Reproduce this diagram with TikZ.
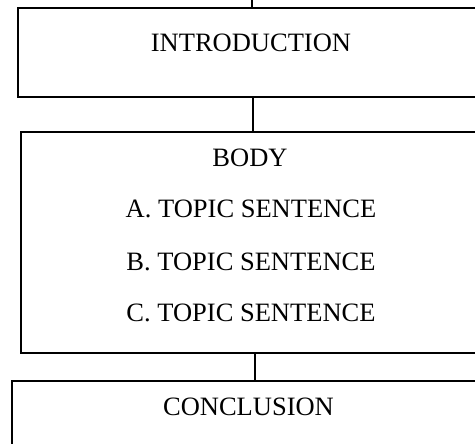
\documentclass[tikz,border=0pt]{standalone}
\usepackage{fontspec}
\setmainfont{Liberation Serif}
\usetikzlibrary{positioning}

\begin{document}
\begin{tikzpicture}[
    x=1pt, y=-1pt,
    block/.style={rectangle, draw, line width=2pt, inner sep=0pt},
    heading/.style={font=\fontsize{26.5}{32}\selectfont, anchor=base, inner sep=0pt},
    link/.style={line width=1.2pt}
]
    \clip (0,0) rectangle (475,444);

    % Boxes
    \node[block, minimum width=466, minimum height=89] (intro) at (251,52.5) {};
    \node[block, minimum width=458, minimum height=221] (body) at (250,242.5) {};
    \node[block, minimum width=473, minimum height=99] (concl) at (248.5,430.5) {};

    % Texts
    \node[heading] (introtext) at (251,52) {INTRODUCTION};
    \node[heading] (bodytext) at (250,167) {BODY};
    \node[heading] (topica) at (251,218) {A. TOPIC SENTENCE};
    \node[heading] (topicb) at (251,270) {B. TOPIC SENTENCE};
    \node[heading] (topicc) at (251,322) {C. TOPIC SENTENCE};
    \node[heading] (concltext) at (248.5,415) {CONCLUSION};

    % Links
    \coordinate (start) at (252,0);
    \draw[link] (start) -- ([xshift=1pt]intro.north);
    \draw[link] ([xshift=2pt]intro.south) -- ([xshift=3pt]body.north);
    \draw[link] ([xshift=5pt]body.south) -- ([xshift=6.5pt]concl.north);
\end{tikzpicture}
\end{document}
